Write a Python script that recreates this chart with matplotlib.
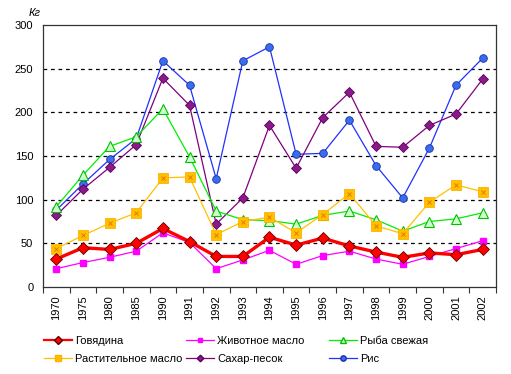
import numpy as np
import matplotlib
matplotlib.use('Agg')
import matplotlib.pyplot as plt
from matplotlib.lines import Line2D

plt.rcParams['font.family'] = ['Liberation Sans', 'DejaVu Sans']

years = ['1970', '1975', '1980', '1985', '1990', '1991', '1992', '1993', '1994',
         '1995', '1996', '1997', '1998', '1999', '2000', '2001', '2002']

beef = [32, 45, 43, 50, 67, 52, 35, 35, 57, 48, 56, 47, 40, 34, 39, 37, 43]
butter = [21, 28, 34, 41, 62, 51, 21, 31, 42, 26, 36, 41, 32, 26, 35, 44, 53]
fish = [92, 128, 161, 172, 204, 149, 87, 77, 76, 72, 82, 87, 77, 64, 75, 78, 85]
oil = [44, 59, 73, 85, 125, 126, 60, 75, 80, 62, 83, 107, 70, 61, 97, 117, 109]
sugar = [82, 112, 137, 163, 239, 208, 72, 102, 185, 136, 194, 223, 161, 160, 185, 198, 238]
rice = [88, 118, 146, 170, 259, 231, 124, 259, 275, 152, 153, 191, 139, 102, 159, 231, 262]

names = ['Говядина', 'Животное масло', 'Рыба свежая',
         'Растительное масло', 'Сахар-песок', 'Рис']

fig = plt.figure(figsize=(5.11, 3.74), dpi=100)
ax = fig.add_axes([0.0841, 0.2326, 0.8865, 0.7006])
x = np.arange(len(years))

# grid
for v in [50, 100, 150, 200, 250]:
    ax.axhline(v, color='black', lw=0.9, ls=(0, (3, 3)), zorder=0)

h_rice, = ax.plot(x, rice, color='#2030ff', lw=0.9, marker='o', ms=5.5,
                  mfc='#3a6cf0', mec='#1a2fa0', mew=0.6, zorder=3)
h_sugar, = ax.plot(x, sugar, color='#800080', lw=0.9, marker='D', ms=4.8,
                   mfc='#8a1a8a', mec='#5a005a', mew=0.6, zorder=3)
h_fish, = ax.plot(x, fish, color='#00ee00', lw=0.9, marker='^', ms=6.5,
                  mfc='#ccffcc', mec='#00c000', mew=0.8, zorder=3)
h_oil, = ax.plot(x, oil, color='#ffc000', lw=0.9, marker='s', ms=6.5,
                 mfc='#ffc000', mec='#ffb000', mew=0.6, zorder=3)
ax.plot(x, oil, ls='none', marker='x', ms=3.5, mec='#e07000', mew=0.6, zorder=4)
h_butter, = ax.plot(x, butter, color='#ff00ff', lw=0.9, marker='s', ms=4.5,
                    mfc='#ff00ff', mec='#ff00ff', zorder=3)
h_beef, = ax.plot(x, beef, color='#ff0000', lw=2.4, marker='D', ms=6,
                  mfc='#ff0000', mec='#600000', mew=0.6, zorder=4)

ax.set_xlim(-0.5, len(years) - 0.5)
ax.set_ylim(0, 300)
ax.set_yticks([0, 50, 100, 150, 200, 250, 300])
ax.tick_params(axis='y', length=0, labelsize=8, pad=7)
ax.set_xticks(x)
ax.set_xticklabels(years, rotation=90, fontsize=8)
ax.tick_params(axis='x', length=0, pad=6)
ax.set_xticks(np.arange(-0.5, len(years), 1), minor=True)
ax.tick_params(axis='x', which='minor', length=4, width=0.8, color='#333333', direction='out')
for s in ax.spines.values():
    s.set_color('#333333')
    s.set_linewidth(0.9)

fig.text(0.056, 0.952, 'Кг', fontsize=8, style='italic', ha='left', va='bottom')

# legend: three fixed columns, two rows each
cols = [[h_beef, h_oil], [h_butter, h_sugar], [h_fish, h_rice]]
col_labels = [[names[0], names[3]], [names[1], names[4]], [names[2], names[5]]]
col_x = [44, 186, 329]
for hs, ls, cx in zip(cols, col_labels, col_x):
    lh = [Line2D([], [], color=h.get_color(), lw=min(h.get_linewidth(), 1.6),
                 marker=h.get_marker(), ms=h.get_markersize() * 0.7,
                 mfc=h.get_markerfacecolor(), mec=h.get_markeredgecolor())
          for h in hs]
    leg = fig.legend(lh, ls, loc='upper left', bbox_to_anchor=(cx / 511, 1 - 336 / 374),
                     frameon=False, fontsize=8, handlelength=2.5, handletextpad=0.3,
                     labelspacing=0.75, borderpad=0, borderaxespad=0)

fig.savefig('out.png', dpi=100)
